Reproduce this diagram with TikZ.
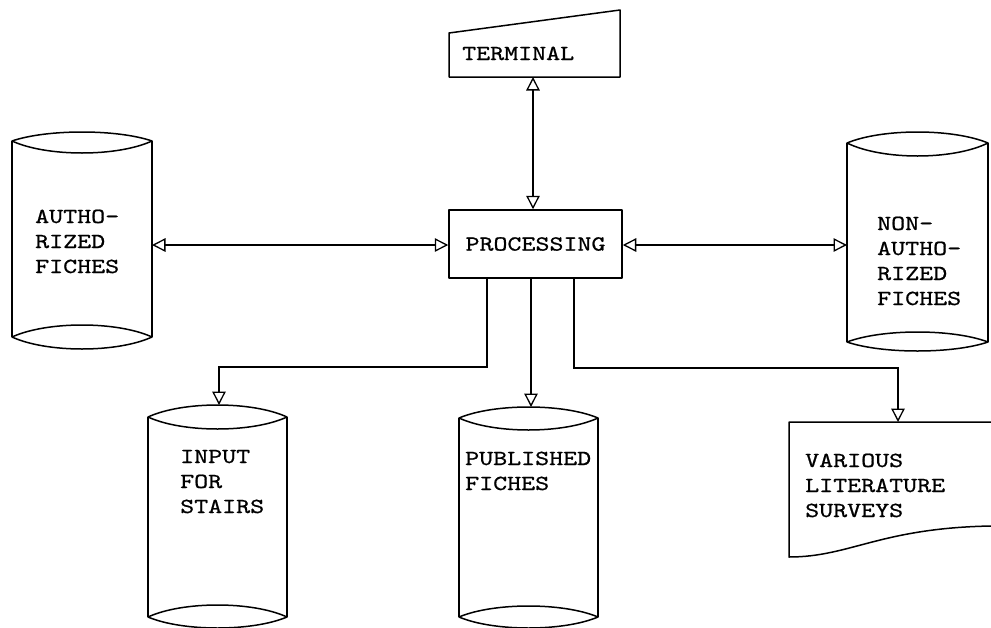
\documentclass[tikz,border=0pt]{standalone}
\usepackage{fontspec}
\setmonofont{lmmono10-regular}[Extension=.otf, FakeStretch=1.24, FakeBold=0.8]
\usetikzlibrary{arrows.meta}
\newcommand\drawcyl[8]{%
  % #1 x left, #2 x right, #3 top corner y, #4 top up, #5 top down,
  % #6 bottom corner y, #7 bottom up, #8 bottom down
  \draw[shp] (#1,#3) -- (#1,#6);
  \draw[shp] (#2,#3) -- (#2,#6);
  \draw[shp] (#1,#3) .. controls ({#1+(#2-#1)/4},{#3-4*#4/3}) and ({#2-(#2-#1)/4},{#3-4*#4/3}) .. (#2,#3)
                     .. controls ({#2-(#2-#1)/4},{#3+4*#5/3}) and ({#1+(#2-#1)/4},{#3+4*#5/3}) .. cycle;
  \draw[shp] (#1,#6) .. controls ({#1+(#2-#1)/4},{#6-4*#7/3}) and ({#2-(#2-#1)/4},{#6-4*#7/3}) .. (#2,#6)
                     .. controls ({#2-(#2-#1)/4},{#6+4*#8/3}) and ({#1+(#2-#1)/4},{#6+4*#8/3}) .. cycle;
}
\begin{document}
\begin{tikzpicture}[x=1pt,y=-1pt,
  shp/.style={line width=1.5pt, line join=round},
  conn/.style={line width=1.2pt},
  >={Triangle[open,length=13.5pt,width=13.5pt,line width=1.3pt]},
  txt/.style={font=\ttfamily\fontsize{21.5}{25}\selectfont},
  lbl/.style={txt, align=left, inner sep=0pt, anchor=base west}]
\useasboundingbox[fill=white] (0,0) rectangle (991,627);

% terminal
\draw[shp] (449,33) -- (620,10) -- (620,77) -- (449,77) -- cycle;
\node[lbl] (term) at (462,60) {TERMINAL};
\coordinate (term-s) at (533,77);

% processing
\node[shp, draw, minimum width=173pt, minimum height=68pt, inner sep=0pt, txt] (proc) at (535.5,244) {PROCESSING};

% authorized fiches (anchor = baseline of last line)
\drawcyl{12}{152}{141}{9}{12}{337}{12}{12}
\node[lbl] (auth) at (35,273) {AUTHO-\\RIZED\\FICHES};
\coordinate (auth-e) at (152,245);

% non-authorized fiches
\drawcyl{847}{988}{143}{11}{13}{342}{10}{9}
\node[lbl] (nauth) at (877,305) {NON-\\AUTHO-\\RIZED\\FICHES};
\coordinate (nauth-w) at (847,245);

% input for stairs
\drawcyl{148}{287}{417}{12}{12}{617}{12}{11}
\node[lbl] (inp) at (180,513) {INPUT\\FOR\\STAIRS};
\coordinate (inp-n) at (219,405);

% published fiches
\drawcyl{459}{598}{418}{11}{12}{617}{11}{11}
\node[lbl] (pub) at (465,490) {PUBLISHED\\FICHES};
\coordinate (pub-n) at (531,407);

% literature surveys (document)
\draw[shp] (991,422) -- (789,422) -- (789,557) .. controls (850,557) and (880,528) .. (991,526);
\node[lbl] (doc) at (805,517) {VARIOUS\\LITERATURE\\SURVEYS};
\coordinate (doc-n) at (898,422);

% connectors
\coordinate (bendA) at (487,367);
\coordinate (bendB) at (574,368);
\draw[conn,<->] (term-s) -- (term-s |- proc.north);
\draw[conn,<->] (auth-e) -- (auth-e -| proc.west);
\draw[conn,<->] (nauth-w -| proc.east) -- (nauth-w);
\draw[conn,->] (proc.south -| bendA) -- (bendA) -| (inp-n);
\draw[conn,->] (proc.south -| pub-n) -- (pub-n);
\draw[conn,->] (proc.south -| bendB) -- (bendB) -| (doc-n);
\end{tikzpicture}
\end{document}
